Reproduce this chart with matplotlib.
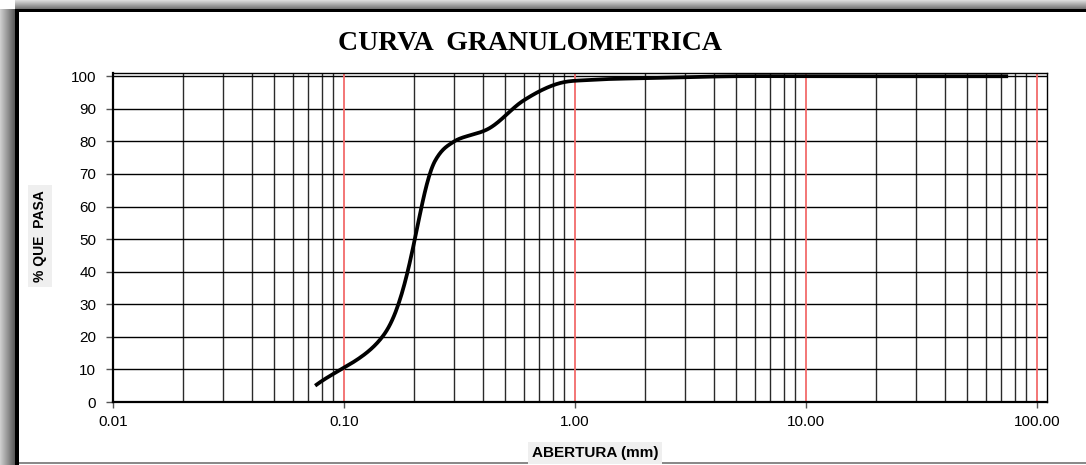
import numpy as np
import matplotlib
matplotlib.use("Agg")
import matplotlib.pyplot as plt
from matplotlib.ticker import FixedLocator, NullFormatter, FuncFormatter

# Sieve openings (mm) and cumulative percent passing
abertura_mm = [0.075, 0.15, 0.25, 0.30, 0.425, 0.60, 0.85, 1.18,
               2.36, 4.75, 9.5, 19.0, 25.0, 37.5, 50.0, 75.0]
pct_pasa = [5.0, 21.0, 74.5, 80.0, 84.0, 92.6, 97.8, 98.9,
            99.5, 100.0, 100.0, 100.0, 100.0, 100.0, 100.0, 100.0]

y_ticks = list(range(0, 101, 10))
x_major = [0.01, 0.1, 1.0, 10.0, 100.0]

W, H = 1086, 465
PX_DECADE, PX_PCT = 231.0, 3.26   # on-screen scale used for smoothing


def smooth_curve(xs, ys, n=40, alpha=0.5):
    """Centripetal Catmull-Rom through the points, in screen-like space."""
    P = np.column_stack([np.log10(np.asarray(xs, float)) * PX_DECADE,
                         np.asarray(ys, float) * PX_PCT])
    P = np.vstack([2 * P[0] - P[1], P, 2 * P[-1] - P[-2]])
    out = []
    for i in range(1, len(P) - 2):
        p0, p1, p2, p3 = P[i - 1], P[i], P[i + 1], P[i + 2]
        t0 = 0.0
        t1 = t0 + np.linalg.norm(p1 - p0) ** alpha
        t2 = t1 + np.linalg.norm(p2 - p1) ** alpha
        t3 = t2 + np.linalg.norm(p3 - p2) ** alpha
        t = np.linspace(t1, t2, n, endpoint=False)[:, None]
        a1 = (t1 - t) / (t1 - t0) * p0 + (t - t0) / (t1 - t0) * p1
        a2 = (t2 - t) / (t2 - t1) * p1 + (t - t1) / (t2 - t1) * p2
        a3 = (t3 - t) / (t3 - t2) * p2 + (t - t2) / (t3 - t2) * p3
        b1 = (t2 - t) / (t2 - t0) * a1 + (t - t0) / (t2 - t0) * a2
        b2 = (t3 - t) / (t3 - t1) * a2 + (t - t1) / (t3 - t1) * a3
        c = (t2 - t) / (t2 - t1) * b1 + (t - t1) / (t2 - t1) * b2
        out.append(c)
    out.append(P[-2][None, :])
    out = np.vstack(out)
    return 10 ** (out[:, 0] / PX_DECADE), out[:, 1] / PX_PCT


fig = plt.figure(figsize=(W / 100, H / 100), dpi=100)
fig.patch.set_facecolor("white")

# Frame with drop shadow around the chart area
bg = fig.add_axes([0, 0, 1, 1], zorder=-5)
bg.axis("off")
grad_h = np.linspace(0.82, 0.35, 64)[None, :]
bg.imshow(np.dstack([grad_h] * 3), extent=(0, 15, H, 10), aspect="auto",
          interpolation="bilinear")
grad_v = np.linspace(0.88, 0.40, 64)[:, None]
bg.imshow(np.dstack([grad_v] * 3), extent=(15, W, 10, 0), aspect="auto",
          interpolation="bilinear")
bg.add_patch(plt.Rectangle((15, 9), W - 15, 3, color="black", lw=0))
bg.add_patch(plt.Rectangle((15, 9), 4, H - 9, color="black", lw=0))
bg.add_patch(plt.Rectangle((19, 462), W - 19, 2, color="#8a8a8a", lw=0))
bg.set_xlim(0, W)
bg.set_ylim(H, 0)

ax = fig.add_axes([113 / W, 1 - 402 / H, (1047 - 113) / W, (402 - 73) / H])
ax.set_xscale("log")
ax.set_xlim(0.01, 110.5)
ax.set_ylim(0, 101)

# Grid: minor decades in dark gray, decades in red, percent lines in black
minors = [m * 10.0 ** e for e in range(-2, 2) for m in range(2, 10)]
for xv in minors:
    ax.axvline(xv, color="#2a2a2a", lw=1.0, zorder=1)
for xv in x_major[1:]:
    ax.axvline(xv, color="#f26b6b", lw=1.3, zorder=1.5)
for yv in y_ticks[1:]:
    ax.axhline(yv, color="black", lw=1.0, zorder=1)

sx, sy = smooth_curve(abertura_mm, pct_pasa)
ax.plot(sx, sy, color="black", lw=2.7, solid_capstyle="butt",
        solid_joinstyle="round", zorder=3, clip_on=False)

ax.xaxis.set_major_locator(FixedLocator(x_major))
ax.xaxis.set_minor_locator(FixedLocator([]))
ax.xaxis.set_minor_formatter(NullFormatter())
ax.xaxis.set_major_formatter(FuncFormatter(lambda v, p: f"{v:.2f}"))
ax.set_yticks(y_ticks)

ax.tick_params(axis="both", which="major", direction="out", length=4,
               width=1, color="#555555", labelsize=11, labelcolor="black")
ax.tick_params(axis="x", pad=5)
ax.tick_params(axis="y", pad=7, length=5)
for lab in ax.get_xticklabels() + ax.get_yticklabels():
    lab.set_fontfamily("Liberation Sans")

for side in ("left", "bottom"):
    ax.spines[side].set_linewidth(1.6)
for side in ("top", "right"):
    ax.spines[side].set_linewidth(1.0)
for s in ax.spines.values():
    s.set_color("black")
    s.set_zorder(4)

fig.text(530 / W, 1 - 50 / H, "CURVA  GRANULOMETRICA", ha="center",
         va="baseline", fontsize=20, fontweight="bold",
         family="Liberation Serif")

fig.text(595 / W, 1 - 457 / H, "ABERTURA (mm)", ha="center", va="baseline",
         fontsize=11, fontweight="bold", family="Liberation Sans",
         bbox=dict(boxstyle="square,pad=0.25", fc="#efefef", ec="none"))

fig.text(40 / W, 1 - 236 / H, "% QUE  PASA", ha="center", va="center",
         rotation=90, fontsize=10, fontweight="bold",
         family="Liberation Sans",
         bbox=dict(boxstyle="square,pad=0.35", fc="#efefef", ec="none"))

fig.savefig("out.png", dpi=100)
